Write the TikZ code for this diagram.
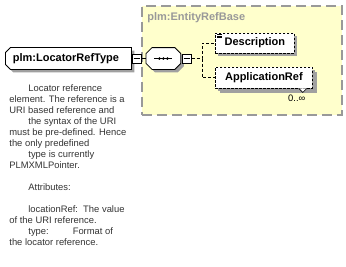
\documentclass[tikz,border=0pt]{standalone}
\usepackage{fontspec}
\setmainfont{Liberation Sans}
\usepackage{tikz}
\usetikzlibrary{positioning,shapes.misc,shadows}
\definecolor{grpfill}{RGB}{255,255,204}
\definecolor{grpline}{RGB}{153,153,153}
\definecolor{shade}{RGB}{160,160,160}

\begin{document}
\begin{tikzpicture}[x=1pt,y=-1pt,
  font=\fontsize{9.4}{11}\selectfont, line width=0.8pt,
  shad/.style={drop shadow={shadow xshift=3pt,shadow yshift=-3pt,fill=shade,opacity=1}},
  ctype/.style={draw,fill=white,shad,chamfered rectangle,chamfered rectangle corners={north west,south west},
    chamfered rectangle xsep=2.5pt,chamfered rectangle ysep=2.5pt,
    font=\fontsize{11}{12}\selectfont\bfseries,text width=111pt,align=left,inner xsep=5pt,minimum height=17pt},
  seqbox/.style={minimum width=34pt,minimum height=21pt,inner sep=0pt},
  minus/.style={draw,fill=white,minimum size=9pt,inner sep=0pt,line width=0.8pt,
    path picture={\draw ([xshift=1.5pt]path picture bounding box.west)--([xshift=-1.5pt]path picture bounding box.east);}},
  elem/.style={draw,dash pattern=on 2.5pt off 1.5pt,fill=white,shad,
    font=\fontsize{11}{12}\selectfont\bfseries,minimum height=20pt,inner sep=0pt},
  groupbox/.style={draw=grpline,fill=grpfill,line width=1.5pt,dash pattern=on 10pt off 5pt,inner sep=0pt},
  conn/.style={dash pattern=on 3pt off 2pt}]
  \useasboundingbox (0,0) rectangle (346,266);
  % group of the base type
  \node[groupbox,minimum width=200pt,minimum height=109pt,anchor=north west] (base) at (141,5) {};
  \node[anchor=west,inner sep=0pt,text=grpline,font=\fontsize{11}{12}\selectfont\bfseries] (basename) at (147,18) {plm:EntityRefBase};
  % type node and sequence
  \node[ctype,anchor=west] (locref) at (5,58.5) {plm:LocatorRefType};
  \node[minus,anchor=west] (locminus) at (locref.east) {};
  \node[seqbox,anchor=west] (seq) at (146,58.5) {};
  \draw[fill=white,shad] ([xshift=6pt]seq.north west)--([xshift=-6pt]seq.north east)
    --([yshift=-6pt]seq.north east)--([yshift=6pt]seq.south east)--([xshift=-6pt]seq.south east)
    --([xshift=6pt]seq.south west)--([yshift=6pt]seq.south west)--([yshift=-6pt]seq.north west)--cycle;
  \draw[line width=1pt] ([xshift=-9pt]seq.center)--([xshift=9pt]seq.center);
  \foreach \d in {-4,0,4} \fill ([xshift=\d pt]seq.center) circle (1.4pt);
  \node[minus,anchor=west,xshift=1pt] (seqminus) at (seq.east) {};
  \draw (locminus.east)--(seq.west);
  % child elements
  \node[elem,anchor=west,minimum width=79pt] (desc) at (215,43) {Description};
  \foreach \k in {2,3.5,5} \draw[line width=0.6pt] ([xshift=2pt,yshift=-\k pt]desc.north west)--++(5,0);
  \node[elem,anchor=west,minimum width=97pt,minimum height=21pt,
    drop shadow={shadow xshift=5pt,shadow yshift=-5pt,fill=shade,opacity=1}] (appref) at (215,77.5) {ApplicationRef};
  \draw[fill=white,line width=0.6pt] ([xshift=-14pt]appref.south east)--++(4,4)--++(4,-4);
  \node[anchor=north,inner sep=0pt] (apprefocc) at ([xshift=-16pt,yshift=-6pt]appref.south east) {0..∞};
  \coordinate (fork) at (202,58.5);
  \draw[conn] (seqminus.east)--(fork) |- (desc.west);
  \draw[conn] (fork) |- (appref.west);
  % annotation
  \node[anchor=north west,inner sep=0pt,align=left,text=black!80] (note) at (9,84.5) {%
    \hspace*{19pt}Locator reference\\
    element. The reference is a\\
    URI based reference and\\
    \hspace*{19pt}the syntax of the URI\\
    must be pre-defined. Hence\\
    the only predefined\\
    \hspace*{19pt}type is currently\\
    PLMXMLPointer.\\[11pt]
    \hspace*{19pt}Attributes:\\[11pt]
    \hspace*{19pt}locationRef:\ \ The value\\
    of the URI reference.\\
    \hspace*{19pt}type:\hspace{24pt}Format of\\
    the locator reference.};
\end{tikzpicture}
\end{document}
